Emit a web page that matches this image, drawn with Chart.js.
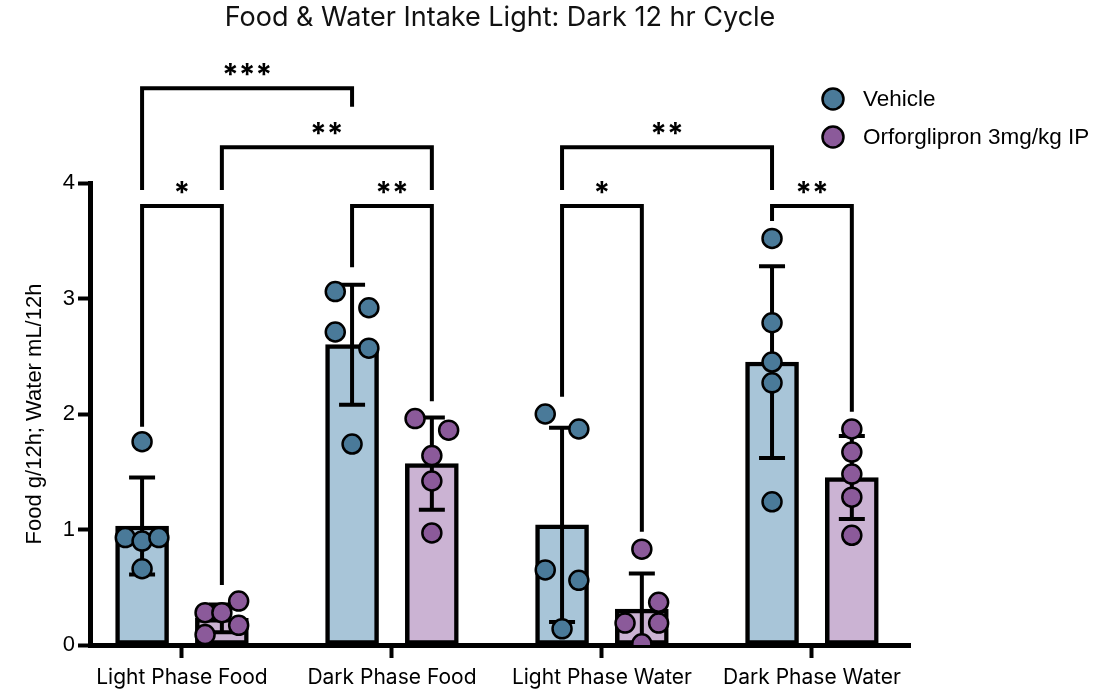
<!DOCTYPE html>
<html>
<head>
<meta charset="utf-8">
<title>Food &amp; Water Intake Light: Dark 12 hr Cycle</title>
<script src="https://cdn.jsdelivr.net/npm/chart.js"></script>
<style>
    html, body { margin: 0; padding: 0; background: #fff; }
    #wrap { width: 1098px; height: 692px; }
</style>
</head>
<body>
<div id="wrap"><canvas id="intakeChart" width="1098" height="692"></canvas></div>
<script>
var chartTitle = 'Food & Water Intake Light: Dark 12 hr Cycle';
var yTitle = 'Food g/12h; Water mL/12h';
var categories = ['Light Phase Food', 'Dark Phase Food', 'Light Phase Water', 'Dark Phase Water'];
var seriesNames = ['Vehicle', 'Orforglipron 3mg/kg IP'];
var yTicks = [0, 1, 2, 3, 4];

// bar height = mean, whiskers = +/- SD
var vehicleMean = [1.03, 2.60, 1.04, 2.45];
var vehicleSD = [0.42, 0.52, 0.84, 0.83];
var orforMean = [0.23, 1.57, 0.31, 1.45];
var orforSD = [0.12, 0.40, 0.31, 0.36];

// single animals, one row per category
var vehiclePoints = [
    [1.76, 0.93, 0.90, 0.93, 0.66],
    [3.06, 2.92, 2.71, 2.57, 1.74],
    [2.00, 1.87, 0.65, 0.56, 0.14],
    [3.52, 2.79, 2.45, 2.27, 1.24]
];
var orforPoints = [
    [0.38, 0.28, 0.28, 0.17, 0.09],
    [1.96, 1.86, 1.64, 1.42, 0.97],
    [0.83, 0.37, 0.19, 0.19, 0.01],
    [1.87, 1.67, 1.48, 1.28, 0.95]
];
// scatter spread of each dot (-1 left, 0 centre, 1 right)
var vehicleJitter = [
    [0, -1, 0, 1, 0],
    [-1, 1, -1, 1, 0],
    [-1, 1, -1, 1, 0],
    [0, 0, 0, 0, 0]
];
var orforJitter = [
    [1, -1, 0, 1, -1],
    [-1, 1, 0, 0, 0],
    [0, 1, -1, 1, 0],
    [0, 0, 0, 0, 0]
];

// significance brackets: [category, group] -> [category, group], bar top, left leg end, right leg end
var sigFrom = [[0, 0], [1, 0], [2, 0], [3, 0], [0, 0], [0, 1], [2, 0]];
var sigTo = [[0, 1], [1, 1], [2, 1], [3, 1], [1, 0], [1, 1], [3, 0]];
var sigTop = [3.80, 3.80, 3.80, 3.80, 4.82, 4.31, 4.31];
var sigLeftEnd = [1.89, 3.27, 2.15, 3.67, 3.94, 3.94, 3.94];
var sigRightEnd = [0.52, 2.11, 0.98, 2.02, 4.66, 3.94, 3.94];
var sigLabels = ['*', '**', '*', '**', '***', '**', '**'];

var groupOffset = 0.19;   // bar centre from category centre, in category units
var jitterStep = 0.08;
var colors = {
    vehicleBar: '#a8c5d8',
    vehicleDot: '#4a7a99',
    orforBar: '#cbb3d3',
    orforDot: '#8b5a9a'
};

function gx(cat, group) {
    return cat + (group === 0 ? -groupOffset : groupOffset);
}
function barData(means, group) {
    return means.map(function (m, i) { return { x: gx(i, group), y: m }; });
}
function dotData(points, jitter, group) {
    var out = [];
    points.forEach(function (row, i) {
        row.forEach(function (v, j) {
            out.push({ x: gx(i, group) + jitter[i][j] * jitterStep, y: v });
        });
    });
    return out;
}

var errorBars = {
    id: 'errorBars',
    afterDatasetDraw: function (chart, args) {
        var ds = chart.data.datasets[args.index];
        if (!ds.sd) return;
        var ctx = chart.ctx;
        var y = chart.scales.y;
        ctx.save();
        ctx.strokeStyle = '#000';
        ctx.lineWidth = 4;
        args.meta.data.forEach(function (bar, i) {
            var top = y.getPixelForValue(ds.data[i].y + ds.sd[i]);
            var bot = y.getPixelForValue(ds.data[i].y - ds.sd[i]);
            ctx.beginPath();
            ctx.moveTo(bar.x, top);
            ctx.lineTo(bar.x, bot);
            ctx.moveTo(bar.x - 13, top);
            ctx.lineTo(bar.x + 13, top);
            ctx.moveTo(bar.x - 13, bot);
            ctx.lineTo(bar.x + 13, bot);
            ctx.stroke();
        });
        ctx.restore();
    }
};

var decorations = {
    id: 'decorations',
    afterDraw: function (chart) {
        var ctx = chart.ctx;
        var xs = chart.scales.x, ys = chart.scales.y;
        var area = chart.chartArea;
        ctx.save();

        // title
        ctx.fillStyle = '#111';
        ctx.font = '27px Inter';
        ctx.textAlign = 'center';
        ctx.textBaseline = 'middle';
        ctx.fillText(chartTitle, (area.left + area.right) / 2, 18);

        // legend
        var legendDots = [colors.vehicleDot, colors.orforDot];
        ctx.font = '22.5px "Liberation Sans", Arial';
        ctx.textAlign = 'left';
        seriesNames.forEach(function (name, i) {
            var cy = 99 + i * 38;
            ctx.beginPath();
            ctx.arc(833, cy, 10.5, 0, Math.PI * 2);
            ctx.fillStyle = legendDots[i];
            ctx.fill();
            ctx.lineWidth = 2.5;
            ctx.strokeStyle = '#000';
            ctx.stroke();
            ctx.fillStyle = '#000';
            ctx.fillText(name, 863, cy + 1);
        });

        // significance brackets
        ctx.strokeStyle = '#000';
        ctx.lineWidth = 4;
        ctx.lineJoin = 'miter';
        ctx.fillStyle = '#000';
        ctx.font = '700 30px Inter';
        ctx.textAlign = 'center';
        ctx.textBaseline = 'alphabetic';
        sigLabels.forEach(function (label, k) {
            var x1 = xs.getPixelForValue(gx(sigFrom[k][0], sigFrom[k][1]));
            var x2 = xs.getPixelForValue(gx(sigTo[k][0], sigTo[k][1]));
            var yt = ys.getPixelForValue(sigTop[k]);
            ctx.beginPath();
            ctx.moveTo(x1, ys.getPixelForValue(sigLeftEnd[k]));
            ctx.lineTo(x1, yt);
            ctx.lineTo(x2, yt);
            ctx.lineTo(x2, ys.getPixelForValue(sigRightEnd[k]));
            ctx.stroke();
            ctx.fillText(label, (x1 + x2) / 2, yt - 3);
        });
        ctx.restore();
    }
};

var ctx = document.getElementById('intakeChart').getContext('2d');
var intakeChart = new Chart(ctx, {
    data: {
        datasets: [
            {
                type: 'scatter',
                label: seriesNames[0],
                data: dotData(vehiclePoints, vehicleJitter, 0),
                pointRadius: 9.5,
                pointBackgroundColor: colors.vehicleDot,
                pointBorderColor: '#000',
                pointBorderWidth: 2.5,
                order: 0
            },
            {
                type: 'scatter',
                label: seriesNames[1],
                data: dotData(orforPoints, orforJitter, 1),
                pointRadius: 9.5,
                pointBackgroundColor: colors.orforDot,
                pointBorderColor: '#000',
                pointBorderWidth: 2.5,
                order: 1
            },
            {
                type: 'bar',
                label: seriesNames[0] + ' mean',
                data: barData(vehicleMean, 0),
                sd: vehicleSD,
                backgroundColor: colors.vehicleBar,
                borderColor: '#000',
                borderWidth: 4.5,
                borderSkipped: false,
                barThickness: 53,
                grouped: false,
                order: 3
            },
            {
                type: 'bar',
                label: seriesNames[1] + ' mean',
                data: barData(orforMean, 1),
                sd: orforSD,
                backgroundColor: colors.orforBar,
                borderColor: '#000',
                borderWidth: 4.5,
                borderSkipped: false,
                barThickness: 53,
                grouped: false,
                order: 2
            }
        ]
    },
    options: {
        responsive: false,
        animation: false,
        layout: { padding: { left: 0, top: 183, right: 188, bottom: 0 } },
        plugins: {
            legend: { display: false },
            title: { display: false },
            tooltip: { enabled: false }
        },
        scales: {
            x: {
                type: 'linear',
                min: -0.438,
                max: 3.467,
                offset: false,
                afterBuildTicks: function (s) {
                    s.ticks = categories.map(function (c, i) { return { value: i }; });
                },
                afterFit: function (s) { s.height = 47; },
                ticks: {
                    autoSkip: false,
                    maxRotation: 0,
                    padding: 7,
                    color: '#000',
                    font: { family: 'Inter', size: 21 },
                    callback: function (v) { return categories[v]; }
                },
                grid: {
                    offset: false,
                    drawOnChartArea: false,
                    tickLength: 13,
                    tickWidth: 4,
                    tickColor: '#000'
                },
                border: { display: true, width: 5, color: '#000' }
            },
            y: {
                min: 0,
                max: 4,
                afterBuildTicks: function (s) {
                    s.ticks = yTicks.map(function (v) { return { value: v }; });
                },
                afterFit: function (s) { s.width = 90; },
                ticks: {
                    padding: 3,
                    color: '#000',
                    font: { family: '"Liberation Sans", Arial', size: 22 }
                },
                grid: {
                    drawOnChartArea: false,
                    tickLength: 12,
                    tickWidth: 4,
                    tickColor: '#000'
                },
                border: { display: true, width: 5, color: '#000' },
                title: {
                    display: true,
                    text: yTitle,
                    color: '#000',
                    font: { family: '"Liberation Sans", Arial', size: 22 },
                    padding: { top: 22, bottom: 0 }
                }
            }
        }
    },
    plugins: [errorBars, decorations]
});
</script>
</body>
</html>
